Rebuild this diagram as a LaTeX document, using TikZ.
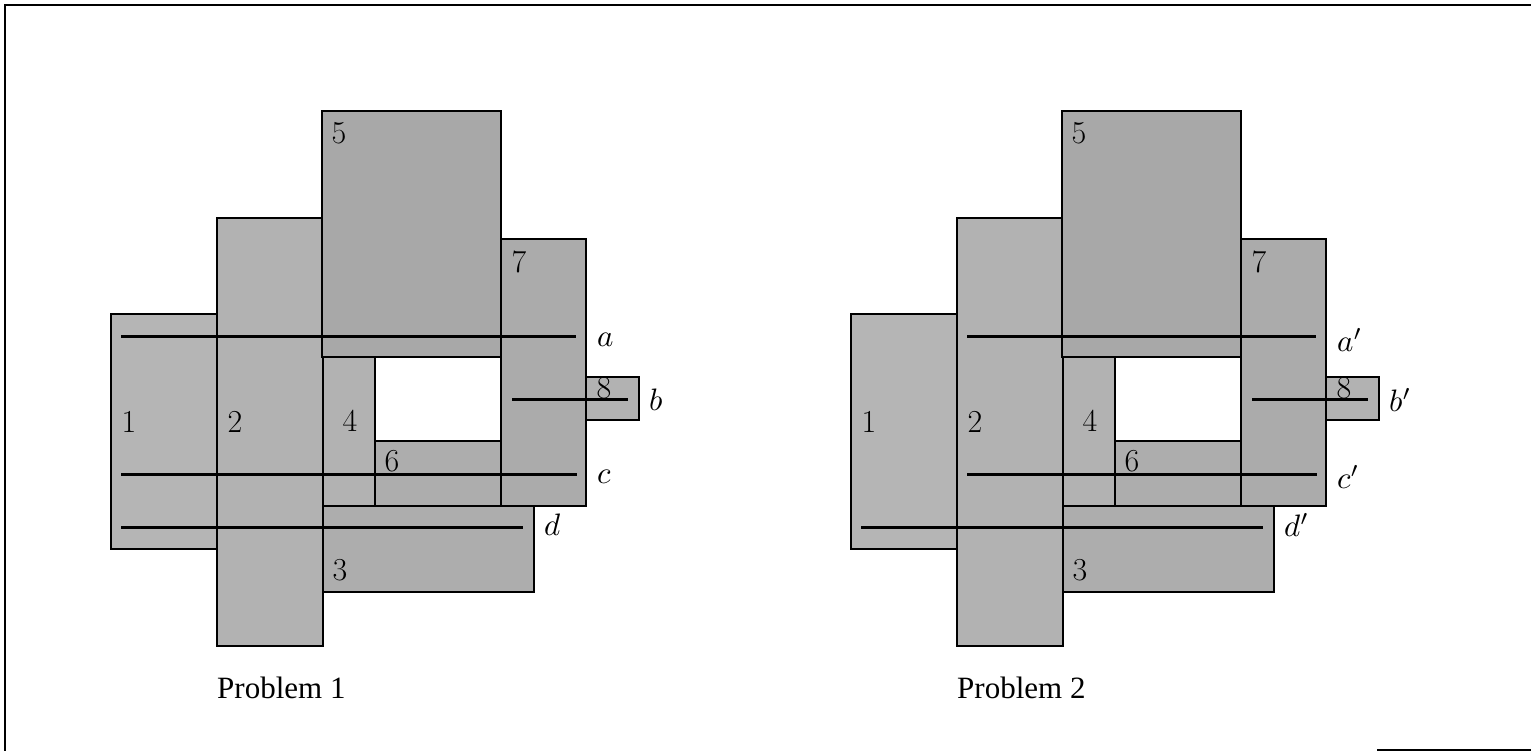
\documentclass[tikz,border=0pt]{standalone}
\usepackage{fontspec}
\newfontfamily\tnrfont{Liberation Serif}
\begin{document}
\begin{tikzpicture}[x=1pt,y=-1pt,
  box/.style={draw=black,line width=1.6pt},
  cutline/.style={draw=black,line width=3pt},
  num/.style={inner sep=0pt,font=\fontsize{32}{38}\selectfont},
  lbl/.style={inner sep=0pt},
  captext/.style={inner sep=0pt,anchor=base west,font=\tnrfont\fontsize{31}{36}\selectfont},
  outerframe/.style={draw=black,line width=2pt}]
\useasboundingbox (0,0) rectangle (1531,751);
% frame
\coordinate (ftl) at (5,5);
\coordinate (ftr) at (1531,5);
\coordinate (fbl) at (5,751);
\coordinate (fbr1) at (1377,750);
\coordinate (fbr2) at (1531,750);
\draw[outerframe] (fbl) -- (ftl) -- (ftr);
\draw[outerframe] (fbr1) -- (fbr2);
% #1 = x shift, #2 = prime, #3 = start of lines a,b,c, #4 = caption
\newcommand\myproblem[4]{%
\begin{scope}[xshift=#1pt]
\draw[box,fill=gray!58] (111,314) rectangle (217,549);
\draw[box,fill=gray!60] (217,218) rectangle (323,646);
\draw[box,fill=gray!68] (322,111) rectangle (501,357);
\draw[box,fill=gray!66] (501,239) rectangle (586,506);
\draw[box,fill=gray!60] (586,377) rectangle (639,420);
\draw[box,fill=gray!60] (323,357) rectangle (375,506);
\draw[box,fill=gray!64] (375,441) rectangle (501,506);
\draw[box,fill=white] (375,357) rectangle (501,441);
\draw[box,fill=gray!64] (323,506) rectangle (534,592);
\coordinate (a1) at (#3,336); \coordinate (a2) at (576,336);
\coordinate (b1) at (512,399); \coordinate (b2) at (628,399);
\coordinate (c1) at (#3,474); \coordinate (c2) at (577,474);
\coordinate (d1) at (121,527); \coordinate (d2) at (523,527);
\draw[cutline] (a1) -- (a2);
\draw[cutline] (b1) -- (b2);
\draw[cutline] (c1) -- (c2);
\draw[cutline] (d1) -- (d2);
\node[num] (n1) at (129,422) {1};
\node[num] (n2) at (235,422) {2};
\node[num] (n3) at (340,570) {3};
\node[num] (n4) at (350,421) {4};
\node[num] (n5) at (339,133) {5};
\node[num] (n6) at (392,461) {6};
\node[num] (n7) at (519,262) {7};
\node[num] (n8) at (604,388) {8};
\node[lbl,anchor=west] (la) at (597,340) {\scalebox{3.1}{$a#2$}};
\node[lbl,anchor=west] (lb) at (649,400) {\scalebox{3.1}{$b#2$}};
\node[lbl,anchor=west] (lc) at (597,477) {\scalebox{3.1}{$c#2$}};
\node[lbl,anchor=west] (ld) at (544,525) {\scalebox{3.1}{$d#2$}};
\node[captext] (cp) at (217,698) {#4};
\end{scope}}
\myproblem{0}{}{121}{Problem 1}
\myproblem{740}{'}{227}{Problem 2}
\end{tikzpicture}
\end{document}
